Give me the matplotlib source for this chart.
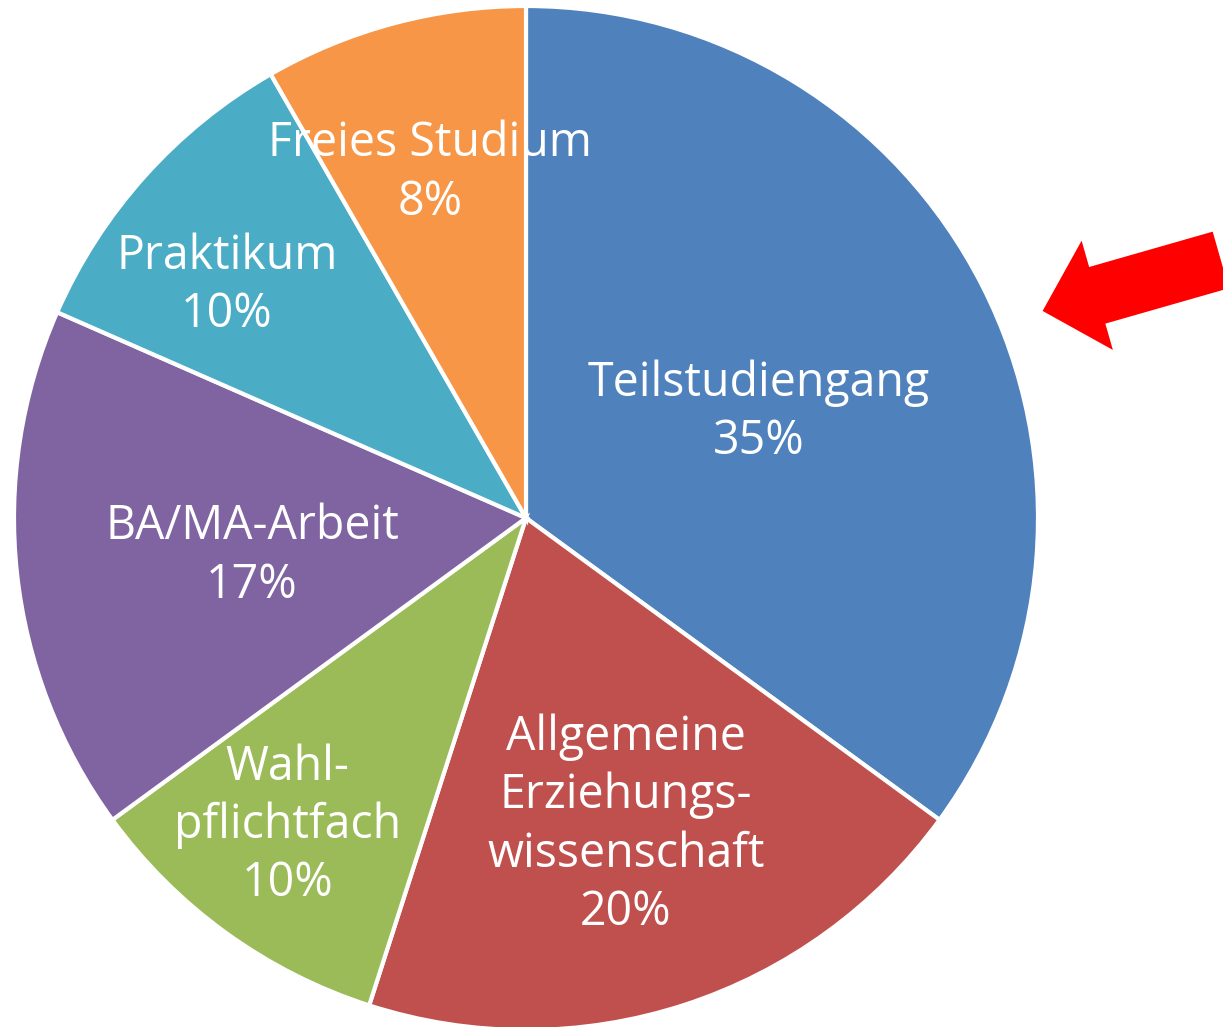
import numpy as np
import matplotlib.pyplot as plt
from matplotlib.patches import FancyArrow

labels = ["Teilstudiengang", "Allgemeine\nErziehungs-\nwissenschaft", "Wahl-\npflichtfach",
          "BA/MA-Arbeit", "Praktikum", "Freies Studium"]
values = [35.0, 19.9, 10.0, 16.6, 10.1, 8.3]
pct_text = [35, 20, 10, 17, 10, 8]
colors = ["#4F81BD", "#C0504D", "#9BBB59", "#8064A2", "#4BACC6", "#F79646"]
label_radius = [0.50, 0.63, 0.76, 0.54, 0.74, 0.70]
label_shift = [-2.5, 0, -2, 1.6, 4, 0.6]  # degrees off the slice middle

W, H = 1223, 1027
cx, cy, R = 526, 518, 512

fig = plt.figure(figsize=(W / 100, H / 100), dpi=100)
ax = fig.add_axes([0, 0, 1, 1])

wedges, _ = ax.pie(values, colors=colors, startangle=90, counterclock=False,
                   radius=1, wedgeprops=dict(edgecolor="white", linewidth=3))

for w, lab, p, r, s in zip(wedges, labels, pct_text, label_radius, label_shift):
    ang = np.deg2rad((w.theta1 + w.theta2) / 2 + s)
    ax.text(r * np.cos(ang), r * np.sin(ang), f"{lab}\n{p}%", ha="center", va="center",
            color="white", fontsize=33.5, family="Open Sans", linespacing=1.3)

# red arrow pointing at the blue slice
arrow = FancyArrow(1.357, 0.504, -0.348, -0.0996, width=0.115, head_width=0.222,
                   head_length=0.111, length_includes_head=True, color="red", lw=0)
ax.add_patch(arrow)

ax.set_xlim(-cx / R, (W - cx) / R)
ax.set_ylim(-(H - cy) / R, cy / R)
ax.set_aspect("equal")
ax.axis("off")

fig.savefig("out.png", dpi=100)
